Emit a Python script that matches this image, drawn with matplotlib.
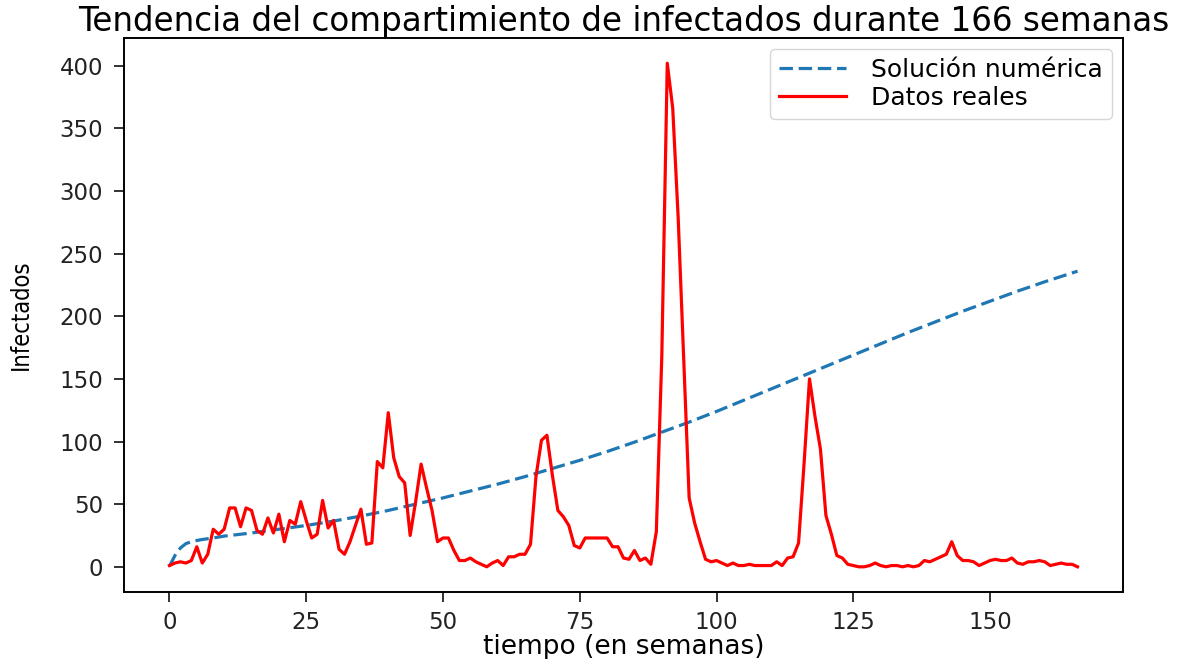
import numpy as np
import matplotlib
matplotlib.use("Agg")
import matplotlib.pyplot as plt

# weekly counts of infected (real data), weeks 0..166
datos_reales = [
    1, 3, 4, 3, 5, 16, 3, 10, 30, 26,
    30, 47, 47, 32, 47, 45, 29, 26, 39, 27,
    42, 20, 37, 34, 52, 37, 23, 26, 53, 31,
    37, 14, 10, 20, 33, 46, 18, 19, 84, 79,
    123, 87, 72, 67, 25, 52, 82, 63, 45, 20,
    23, 23, 13, 5, 5, 7, 4, 2, 0, 3,
    5, 1, 8, 8, 10, 10, 18, 72, 101, 105,
    73, 45, 40, 33, 17, 15, 23, 23, 23, 23,
    23, 16, 16, 7, 6, 13, 5, 7, 2, 28,
    168, 402, 366, 278, 167, 55, 35, 20, 6, 4,
    5, 3, 1, 3, 1, 1, 2, 1, 1, 1,
    1, 4, 1, 7, 8, 19, 82, 150, 120, 94,
    41, 26, 9, 7, 2, 1, 0, 0, 1, 3,
    1, 0, 1, 1, 0, 1, 0, 1, 5, 4,
    6, 8, 10, 20, 9, 5, 5, 4, 1, 3,
    5, 6, 5, 5, 7, 3, 2, 4, 4, 5,
    4, 1, 2, 3, 2, 2, 0,
]
semanas = np.arange(len(datos_reales))

# numerical solution of the model, sampled at these weeks
t_modelo = [0, 1, 2, 3, 4, 5, 6, 8, 10, 15, 20, 25, 30, 35, 40, 45, 50,
            55, 60, 65, 70, 75, 80, 85, 90, 95, 100, 105, 110, 115, 120,
            125, 130, 135, 140, 145, 150, 155, 160, 166]
sol_numerica = [0.5, 9, 15, 18.5, 20, 21, 21.8, 23, 24.5, 27, 30, 33, 36.5,
                40.5, 45, 50, 55, 60.5, 66, 72, 78.5, 85, 92, 99.5, 107.5,
                115.5, 124, 133, 142, 151, 160, 169, 178, 187, 195.5, 204,
                212, 220, 227.5, 236]

fig = plt.figure(figsize=(11.94, 6.59), dpi=100)
ax = fig.add_axes([0.1039, 0.1017, 0.8366, 0.8406])

ax.plot(t_modelo, sol_numerica, '--', color='#1f77b4', lw=2.3,
        dashes=(4.2, 1.8), label='Solución numérica')
ax.plot(semanas, datos_reales, '-', color='red', lw=2.3, label='Datos reales')

ax.set_yticks(range(0, 401, 50))
ax.set_xticks(range(0, 151, 25))
ax.tick_params(axis='both', labelsize=16.5, length=7, width=1.3,
               colors='#222222')
ax.tick_params(axis='y', pad=8)
ax.tick_params(axis='x', pad=7)
for sp in ax.spines.values():
    sp.set_linewidth(1.4)

ax.set_xlabel('tiempo (en semanas)', fontsize=19, labelpad=0)
ax.set_ylabel('Infectados', fontsize=17, fontstretch='condensed',
              labelpad=19)
ax.set_title('Tendencia del compartimiento de infectados durante 166 semanas',
             fontsize=23.5, pad=3)

ax.legend(loc='upper right', fontsize=18, handlelength=2.7,
          handletextpad=1.0, borderpad=0.35, labelspacing=0.15,
          borderaxespad=0.45, framealpha=0.8)

fig.savefig('out.png', dpi=100)
